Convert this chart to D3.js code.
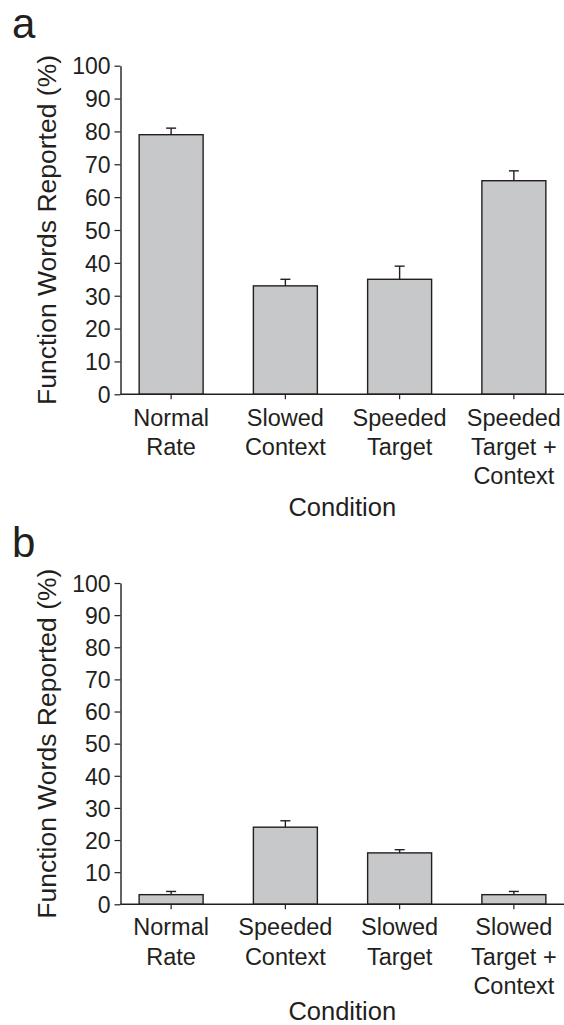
<!DOCTYPE html>
<html>
<head>
<meta charset="utf-8">
<script src="https://cdn.jsdelivr.net/npm/d3@7"></script>
<style>
  body { margin: 0; background: #fff; }
  text { font-family: "Liberation Sans", Arial, sans-serif; fill: #231f20; }
</style>
</head>
<body>
<svg id="chart"></svg>
<script>
const width = 564,
      height = 1025;

// panel a
const conditionsA = [["Normal", "Rate"], ["Slowed", "Context"], ["Speeded", "Target"], ["Speeded", "Target +", "Context"]];
const valuesA = [79, 33, 35, 65];
const errorsA = [2, 2, 4, 3];

// panel b
const conditionsB = [["Normal", "Rate"], ["Speeded", "Context"], ["Slowed", "Target"], ["Slowed", "Target +", "Context"]];
const valuesB = [3, 24, 16, 3];
const errorsB = [1, 2, 1, 1];

const yTicks = [0, 10, 20, 30, 40, 50, 60, 70, 80, 90, 100];

const svg = d3.select("#chart")
  .attr("width", width)
  .attr("height", height);

function drawPanel(cfg) {
  const g = svg.append("g");
  const ids = cfg.conditions.map((d, i) => i);

  const x = d3.scaleBand()
    .domain(ids)
    .range([114, 571])
    .paddingInner(0.44)
    .paddingOuter(0.22);

  const y = d3.scaleLinear()
    .domain([0, 100])
    .range([cfg.bottom, cfg.top]);

  const axisLeft = 120.5;

  // letter
  g.append("text")
    .attr("x", 12)
    .attr("y", cfg.letterY)
    .attr("font-size", "42px")
    .text(cfg.letter);

  // bars
  g.append("g")
    .selectAll("rect")
    .data(cfg.values)
    .join("rect")
    .attr("x", (d, i) => x(i))
    .attr("y", d => y(d))
    .attr("width", x.bandwidth())
    .attr("height", d => y(0) - y(d))
    .attr("fill", "#c7c8ca")
    .attr("stroke", "#231f20")
    .attr("stroke-width", 1.4);

  // error bars
  const err = g.append("g")
    .attr("stroke", "#231f20")
    .attr("stroke-width", 1.4);
  cfg.values.forEach((v, i) => {
    const cx = x(i) + x.bandwidth() / 2;
    err.append("line")
      .attr("x1", cx).attr("x2", cx)
      .attr("y1", y(v)).attr("y2", y(v + cfg.errors[i]));
    err.append("line")
      .attr("x1", cx - 5).attr("x2", cx + 5)
      .attr("y1", y(v + cfg.errors[i])).attr("y2", y(v + cfg.errors[i]));
  });

  // y axis
  const yAxis = g.append("g")
    .attr("transform", `translate(${axisLeft},0)`)
    .call(d3.axisLeft(y).tickValues(yTicks).tickSize(6).tickSizeOuter(0).tickPadding(4));
  yAxis.select(".domain").attr("stroke", "#231f20").attr("stroke-width", 1.4);
  yAxis.selectAll(".tick line").attr("stroke", "#231f20").attr("stroke-width", 1.2);
  yAxis.selectAll(".tick text")
    .attr("font-size", "23px")
    .attr("font-family", "Liberation Sans, Arial, sans-serif")
    .attr("fill", "#231f20")
    .attr("dy", "0.36em");

  // x axis
  const xAxis = g.append("g")
    .attr("transform", `translate(0,${y(0)})`)
    .call(d3.axisBottom(x).tickSize(5).tickSizeOuter(0).tickFormat(""));
  xAxis.select(".domain")
    .attr("d", `M${axisLeft},0H${width}`)
    .attr("stroke", "#231f20")
    .attr("stroke-width", 1.6);
  xAxis.selectAll(".tick line").attr("stroke", "#231f20").attr("stroke-width", 1.2);

  // category labels
  cfg.conditions.forEach((lines, i) => {
    const t = g.append("text")
      .attr("text-anchor", "middle")
      .attr("font-size", "23.5px")
      .attr("x", x(i) + x.bandwidth() / 2)
      .attr("y", y(0) + cfg.labelOffset);
    lines.forEach((l, j) => {
      t.append("tspan")
        .attr("x", x(i) + x.bandwidth() / 2)
        .attr("dy", j === 0 ? 0 : cfg.lineGap)
        .text(l);
    });
  });

  // axis titles
  g.append("text")
    .attr("text-anchor", "middle")
    .attr("font-size", "25.5px")
    .attr("x", (axisLeft + width) / 2)
    .attr("y", y(0) + cfg.titleOffset)
    .text("Condition");

  g.append("text")
    .attr("text-anchor", "middle")
    .attr("font-size", "26.5px")
    .attr("transform", `translate(56,${(cfg.top + cfg.bottom) / 2}) rotate(-90)`)
    .text("Function Words Reported (%)");
}

drawPanel({
  letter: "a", letterY: 38,
  conditions: conditionsA, values: valuesA, errors: errorsA,
  top: 65.7, bottom: 394.3,
  labelOffset: 32, lineGap: 29, titleOffset: 122
});

drawPanel({
  letter: "b", letterY: 557,
  conditions: conditionsB, values: valuesB, errors: errorsB,
  top: 583, bottom: 904.3,
  labelOffset: 31, lineGap: 29.5, titleOffset: 116
});
</script>
</body>
</html>
